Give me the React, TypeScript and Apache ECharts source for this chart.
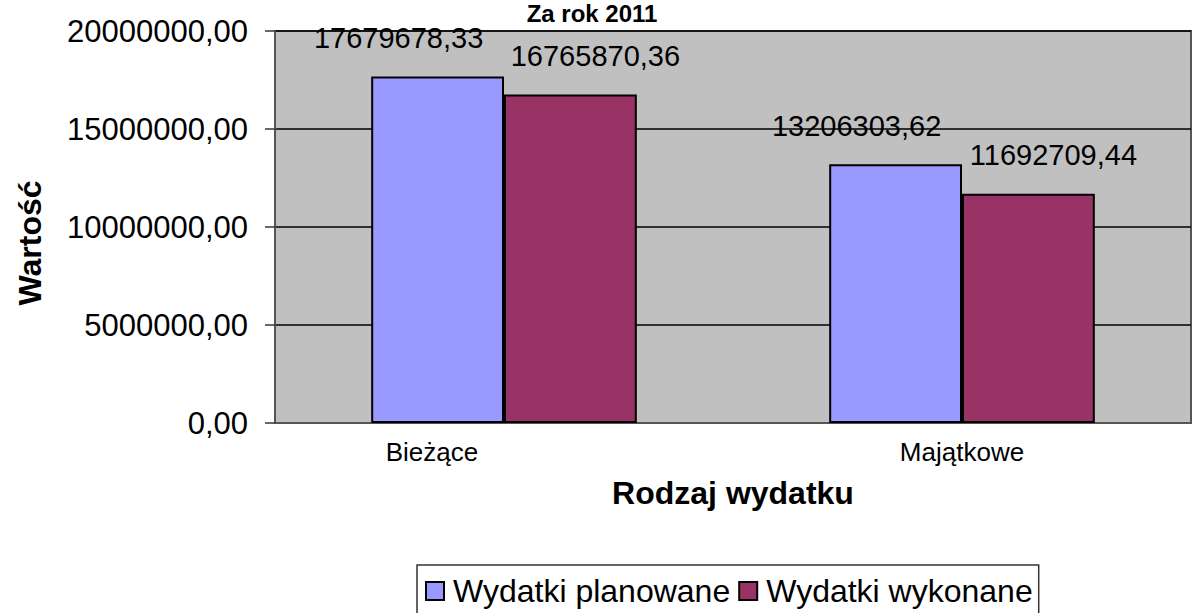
import React, { useEffect, useRef } from "react";
import * as echarts from "echarts";

const categories = ["Bieżące", "Majątkowe"];
const planned = [17679678.33, 13206303.62];
const executed = [16765870.36, 11692709.44];
const seriesNames = ["Wydatki planowane", "Wydatki wykonane"];
const titleText = "Za rok 2011";

const FONT = "'Liberation Sans', Arial, sans-serif";
const fmt = (v: number) => v.toFixed(2).replace(".", ",");

export default function App() {
  const ref = useRef<HTMLDivElement>(null);
  useEffect(() => {
    if (!ref.current) return;
    const chart = echarts.init(ref.current, undefined, { renderer: "svg" });
    chart.setOption({
      animation: false,
      backgroundColor: "#ffffff",
      textStyle: { fontFamily: FONT },
      graphic: [
        {
          type: "text",
          x: 592,
          y: 1,
          style: {
            text: titleText,
            font: `bold 24px ${FONT}`,
            fill: "#000",
            textAlign: "center",
            textVerticalAlign: "top",
          },
        },
      ],
      grid: {
        left: 275,
        right: 1,
        top: 31,
        bottom: 190,
        show: true,
        backgroundColor: "#c0c0c0",
        borderColor: "#555555",
        borderWidth: 2,
        containLabel: false,
        outerBoundsMode: "none",
      },
      legend: {
        left: 417,
        top: 565,
        width: 660,
        padding: [10, 6, 20, 8],
        borderColor: "#333",
        borderWidth: 1.5,
        backgroundColor: "#fff",
        itemWidth: 18,
        itemHeight: 18,
        itemGap: 8,
        icon: "rect",
        textStyle: { fontFamily: FONT, fontSize: 32, color: "#000", padding: [0, 0, 0, 4] },
        data: seriesNames,
      },
      xAxis: {
        type: "category",
        data: categories.map((c, i) =>
          i === 0 ? { value: c, textStyle: { padding: [0, 144, 0, 0] } } : c
        ),
        name: "Rodzaj wydatku",
        nameLocation: "middle",
        nameGap: 54,
        nameTextStyle: { fontFamily: FONT, fontSize: 32, fontWeight: "bold", color: "#000" },
        axisLine: { lineStyle: { color: "#555", width: 2 } },
        axisTick: { show: false },
        axisLabel: { fontFamily: FONT, fontSize: 26, color: "#000", margin: 16 },
      },
      yAxis: {
        type: "value",
        min: 0,
        max: 20000000,
        interval: 5000000,
        name: "Wartość",
        nameLocation: "middle",
        nameGap: 229,
        nameRotate: 90,
        nameTextStyle: {
          fontFamily: FONT,
          fontSize: 32,
          fontWeight: "bold",
          color: "#000",
          padding: [0, 32, 0, 0],
        },
        axisLine: { show: true, lineStyle: { color: "#555", width: 2 } },
        axisTick: { show: true, length: 10, lineStyle: { color: "#333", width: 1.5 } },
        axisLabel: {
          fontFamily: FONT,
          fontSize: 31,
          color: "#000",
          margin: 27,
          formatter: (v: number) => fmt(v),
        },
        splitLine: { lineStyle: { color: "#000", width: 1.5 } },
      },
      series: [
        {
          name: seriesNames[0],
          type: "bar",
          data: planned,
          barCategoryGap: "42%",
          barGap: "0%",
          itemStyle: { color: "#9999ff", borderColor: "#000", borderWidth: 2 },
          label: {
            show: true,
            position: "top",
            distance: 5,
            offset: [-39, -19],
            fontFamily: FONT,
            fontSize: 29,
            color: "#000",
            formatter: (p: any) => fmt(p.value),
          },
        },
        {
          name: seriesNames[1],
          type: "bar",
          data: executed,
          itemStyle: { color: "#993366", borderColor: "#000", borderWidth: 2 },
          label: {
            show: true,
            position: "top",
            distance: 5,
            offset: [25, -19],
            fontFamily: FONT,
            fontSize: 29,
            color: "#000",
            formatter: (p: any) => fmt(p.value),
          },
        },
      ],
    });
    return () => chart.dispose();
  }, []);
  return (
    <div
      ref={ref}
      style={{ position: "fixed", left: 0, top: 0, width: 1192, height: 613 }}
    />
  );
}
